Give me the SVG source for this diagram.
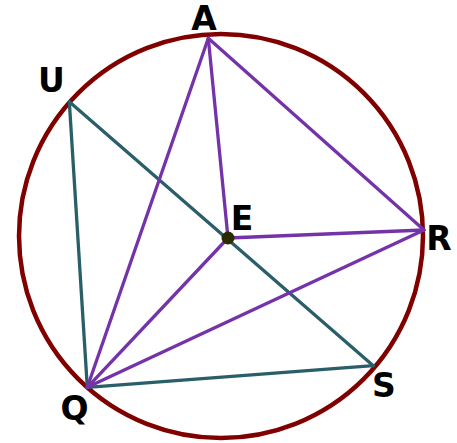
<svg xmlns="http://www.w3.org/2000/svg" width="457" height="443" viewBox="0 0 457 443">
<style>
.lbl{font-family:"DejaVu Sans",sans-serif;font-weight:bold;font-size:33px;fill:#000;text-anchor:middle}
.teal{stroke:#2a5f6a;stroke-width:3.3;fill:none;stroke-linecap:round}
.purple{stroke:#7433a8;stroke-width:3.3;fill:none;stroke-linecap:round}
</style>
<rect width="457" height="443" fill="#fff"/>
<g id="circle"><circle cx="221" cy="236" r="202" fill="none" stroke="#800000" stroke-width="4.5"/></g>
<g id="connectors">
<line class="teal" x1="69.3" y1="101.7" x2="87.3" y2="387.3"/>
<line class="teal" x1="69.3" y1="101.7" x2="373.3" y2="365.7"/>
<line class="teal" x1="87.3" y1="387.3" x2="373.3" y2="365.7"/>
<line class="purple" x1="208.3" y1="38.3" x2="87.3" y2="387.3"/>
<line class="purple" x1="208.3" y1="38.3" x2="228" y2="238"/>
<line class="purple" x1="208.3" y1="38.3" x2="424" y2="230"/>
<line class="purple" x1="228" y1="238" x2="424" y2="230"/>
<line class="purple" x1="228" y1="238" x2="87.3" y2="387.3"/>
<line class="purple" x1="87.3" y1="387.3" x2="424" y2="230"/>
</g>
<g id="E"><circle cx="228" cy="238" r="6.5" fill="#2b2b00"/><text class="lbl" x="242" y="230">E</text></g>
<g id="A"><text class="lbl" x="204" y="30">A</text></g>
<g id="U"><text class="lbl" x="51.5" y="92">U</text></g>
<g id="R"><text class="lbl" x="439" y="250">R</text></g>
<g id="S"><text class="lbl" x="384" y="397">S</text></g>
<g id="Q"><text class="lbl" x="74.5" y="420">Q</text></g>
</svg>
